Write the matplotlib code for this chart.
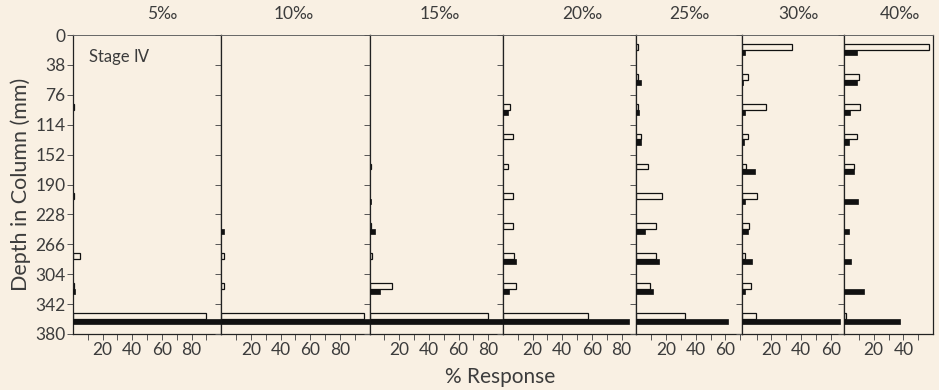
import matplotlib
matplotlib.use("Agg")
import matplotlib.pyplot as plt
import numpy as np

# ---- data ----
salinities = ["5‰", "10‰", "15‰", "20‰", "25‰", "30‰", "40‰"]
depth_ticks = [0, 38, 76, 114, 152, 190, 228, 266, 304, 342, 380]
depth_mid = [19, 57, 95, 133, 171, 209, 247, 285, 323, 361]

open_5 = [0, 0, 1, 0, 0, 1, 0, 5, 1, 90]
solid_5 = [0, 0, 0, 0, 0, 0, 0, 0, 1.5, 100]
open_10 = [0, 0, 0, 0, 0, 0, 0, 1.5, 1.5, 96]
solid_10 = [0, 0, 0, 0, 0, 0, 2, 0, 0, 100]
open_15 = [0, 0, 0, 0, 1, 0, 1, 1.5, 15, 80]
solid_15 = [0, 0, 0, 0, 0, 1, 3.5, 0, 7, 90]
open_20 = [0, 0, 4.5, 7, 3.5, 7, 7, 7.5, 9, 57]
solid_20 = [0, 0, 3.5, 0, 0, 0, 0, 8.5, 4, 85]
open_25 = [1, 1, 1, 3, 8, 17, 13, 13.5, 9, 33]
solid_25 = [0, 3, 2, 3, 0, 0, 5.5, 15, 11, 62]
open_30 = [34, 4, 16.5, 4, 3, 10, 5, 2.5, 6.5, 9.5]
solid_30 = [2.5, 1, 2, 1.5, 9, 2.5, 4.5, 7, 2, 66]
open_40 = [57, 10, 10.5, 9, 7, 0, 0, 0, 0, 1.5]
solid_40 = [9, 8.5, 4, 3.5, 7, 9.5, 3.5, 5, 13.5, 37.5]

open_vals = [open_5, open_10, open_15, open_20, open_25, open_30, open_40]
solid_vals = [solid_5, solid_10, solid_15, solid_20, solid_25, solid_30, solid_40]
x_max = [100, 100, 90, 90, 71, 69, 60]

# ---- layout / style ----
bg = "#f9f0e3"
ink = "#3c3c3c"
W, H = 939, 390
left_px, right_px, top_px, bottom_px = 73, 933, 35, 334
title_x_px = [162, 294, 440, 582, 689, 798, 900]
fw = 400

plt.rcParams["font.family"] = ["Lato", "DejaVu Sans"]
plt.rcParams["font.weight"] = fw
plt.rcParams["axes.labelweight"] = fw
fig = plt.figure(figsize=(W / 100, H / 100), dpi=100, facecolor=bg)
gs = fig.add_gridspec(1, 7, width_ratios=x_max, wspace=0,
                      left=left_px / W, right=right_px / W,
                      top=1 - top_px / H, bottom=1 - bottom_px / H)

mid = np.array(depth_mid, dtype=float)
for i in range(7):
    ax = fig.add_subplot(gs[0, i])
    ax.set_facecolor(bg)
    ov = np.array(open_vals[i], dtype=float)
    sv = np.array(solid_vals[i], dtype=float)
    mo = ov > 0
    ms = sv > 0
    ax.barh(mid[mo] - 3.9, ov[mo], height=7.4, left=0, color=bg,
            edgecolor="#111111", linewidth=0.9, zorder=2)
    ax.barh(mid[ms] + 3.0, sv[ms], height=6.4, left=0, color="#111111",
            edgecolor="#111111", linewidth=0.5, zorder=3)
    ax.set_xlim(0, x_max[i])
    ax.set_ylim(380, 0)
    ax.set_yticks(depth_ticks)
    xt = list(range(10, int(x_max[i]), 10))
    ax.set_xticks(xt)
    ax.set_xticklabels([str(v) if v in (20, 40, 60, 80) else "" for v in xt])
    ax.tick_params(axis="both", direction="out", length=4, width=0.7,
                   color="#555555", labelcolor=ink, labelsize=12.5, pad=1.5)
    ax.tick_params(axis="y", left=True, right=False)
    for lab in ax.get_xticklabels() + ax.get_yticklabels():
        lab.set_fontweight(fw)
    if i > 0:
        ax.set_yticklabels([])
    for name, s in ax.spines.items():
        s.set_color("#222222" if name != "top" else "#666666")
        s.set_linewidth(0.9 if name != "top" else 0.7)
    fig.text(title_x_px[i] / W, 1 - 14 / H, salinities[i], ha="center",
             va="center", fontsize=12.5, color=ink, fontweight=fw)
    if i == 0:
        ax.text(0.11, 0.925, "Stage Ⅳ", transform=ax.transAxes, fontsize=12,
                color=ink, va="center", ha="left", fontweight=fw)
        ax.set_ylabel("Depth in Column (mm)", fontsize=15.5, color=ink,
                      labelpad=3, fontweight=fw)

fig.text(500 / W, 1 - 377 / H, "% Response", ha="center", va="center",
         fontsize=15, color=ink, fontweight=fw)

fig.savefig("out.png", dpi=100, facecolor=bg)
